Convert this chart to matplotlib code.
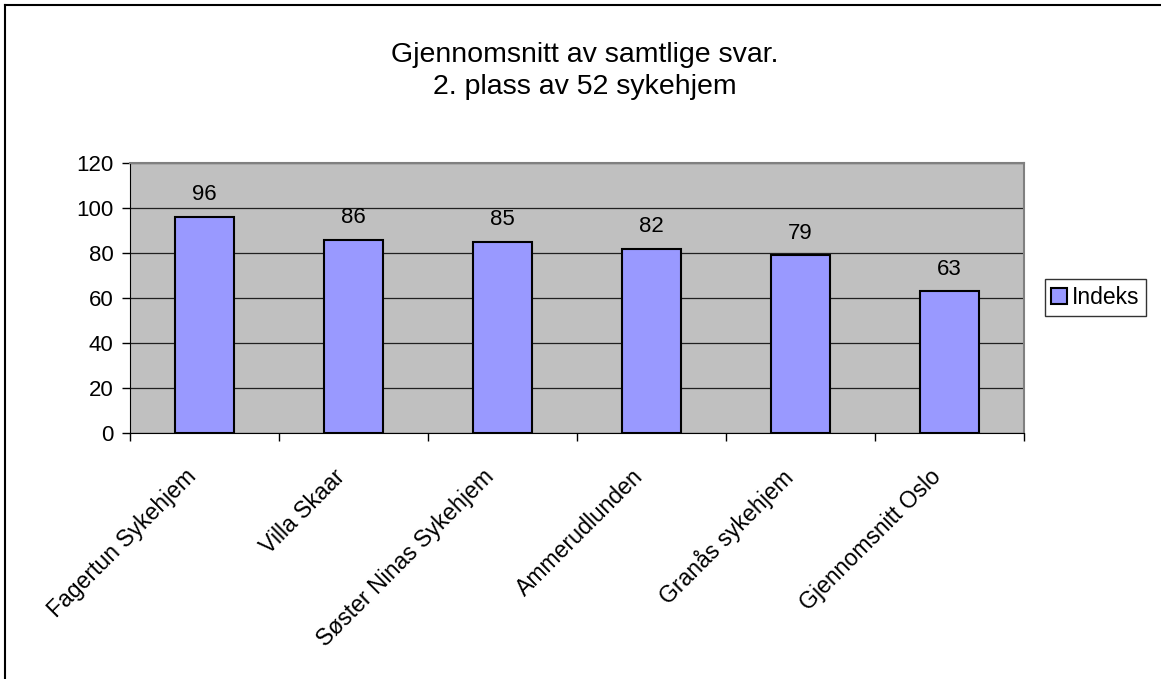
import matplotlib
matplotlib.use("Agg")
import matplotlib.pyplot as plt
from matplotlib.patches import Patch
from matplotlib.lines import Line2D

plt.rcParams['font.family'] = ['Liberation Sans', 'DejaVu Sans']

categories = ["Fagertun Sykehjem", "Villa Skaar", "Søster Ninas Sykehjem",
              "Ammerudlunden", "Granås sykehjem", "Gjennomsnitt Oslo"]
values = [96, 86, 85, 82, 79, 63]
yticks = [0, 20, 40, 60, 80, 100, 120]
title = "Gjennomsnitt av samtlige svar.\n2. plass av 52 sykehjem"
series_name = "Indeks"

FS = 16
W, H = 1161, 679
fig = plt.figure(figsize=(W / 100, H / 100), dpi=100)
ax = fig.add_axes([130 / W, 1 - 433 / H, (1024 - 130) / W, (433 - 163) / H])
ax.set_facecolor('#C0C0C0')

x = list(range(len(categories)))
ax.bar(x, values, width=0.4, color='#9999FF', edgecolor='black', linewidth=1.5, zorder=3)
for xi, v in zip(x, values):
    ax.annotate(str(v), (xi, v), xytext=(0, 12), textcoords='offset points',
                ha='center', va='baseline', fontsize=FS)

ax.set_xlim(-0.5, len(categories) - 0.5)
ax.set_ylim(0, 120)
ax.set_yticks(yticks)
ax.set_yticklabels([str(t) for t in yticks], fontsize=FS)
ax.yaxis.grid(True, color='#202020', linewidth=0.9, zorder=1)
ax.set_axisbelow(True)

ax.set_xticks([i - 0.5 for i in range(len(categories) + 1)])
ax.set_xticklabels([''] * (len(categories) + 1))
for xi, name in zip(x, categories):
    ax.annotate(name, (xi, 0), xycoords=('data', 'axes fraction'),
                xytext=(-14.5, -23), textcoords='offset points',
                rotation=45, rotation_mode='anchor', ha='right', va='top',
                fontsize=16.6, annotation_clip=False)
ax.tick_params(axis='x', which='major', length=6, width=1, direction='out')
ax.tick_params(axis='y', length=6, width=1, direction='out', pad=6)

for s in ['top', 'right']:
    ax.spines[s].set_color('#808080')
    ax.spines[s].set_linewidth(1.5)
ax.spines['left'].set_color('black')
ax.spines['bottom'].set_color('black')

fig.text(585 / W, 1 - 71 / H, title, ha='center', va='center', fontsize=20.5, linespacing=1.3)

leg = fig.legend(handles=[Patch(facecolor='#9999FF', edgecolor='black', linewidth=1.5, label=series_name)],
                 loc='center', bbox_to_anchor=(1095.5 / W, 1 - 297.5 / H), fontsize=16.5,
                 frameon=True, fancybox=False, edgecolor='black', handlelength=0.7,
                 handleheight=0.7, handletextpad=0.2, borderpad=0.3, borderaxespad=0)
leg.get_frame().set_linewidth(1.0)

fig.add_artist(Line2D([5 / W, 5 / W], [0, 1 - 5 / H], color='black', linewidth=1.5, transform=fig.transFigure))
fig.add_artist(Line2D([5 / W, 1], [1 - 5 / H, 1 - 5 / H], color='black', linewidth=1.5, transform=fig.transFigure))

fig.savefig('out.png', dpi=100)
